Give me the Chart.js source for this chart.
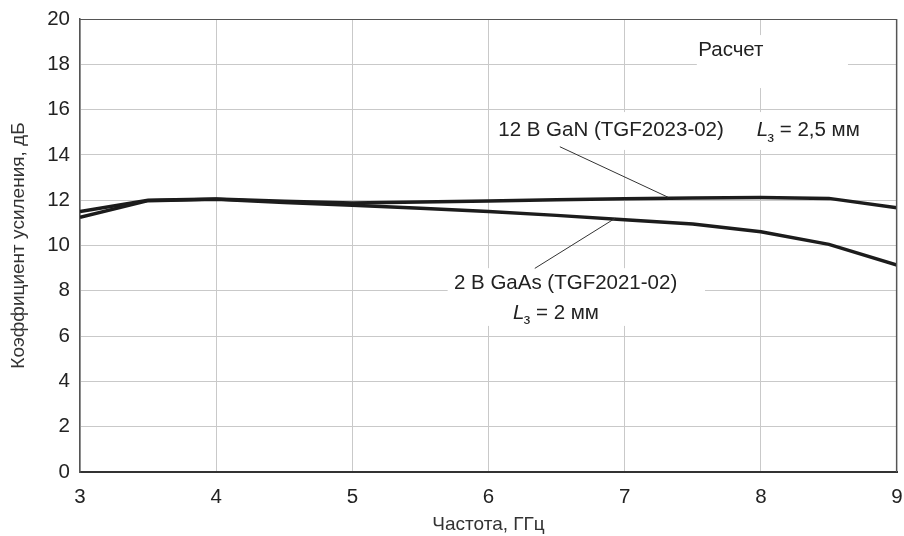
<!DOCTYPE html>
<html>
<head>
<meta charset="utf-8">
<script src="https://cdn.jsdelivr.net/npm/chart.js@4.4.1/dist/chart.umd.min.js"></script>
<style>
  html, body { margin: 0; padding: 0; background: #fff; }
  #wrap { width: 904px; height: 536px; }
</style>
</head>
<body>
<div id="wrap"><canvas id="c" width="904" height="536"></canvas></div>
<script>
// ---- Data ----
const freqGHz   = [3, 3.5, 4, 4.5, 5, 5.5, 6, 6.5, 7, 7.5, 8, 8.5, 9];
const ganGain   = [11.5, 12.0, 12.05, 11.95, 11.88, 11.92, 11.97, 12.02, 12.06, 12.1, 12.12, 12.08, 11.67];
const gaasGain  = [11.25, 11.98, 12.04, 11.9, 11.78, 11.65, 11.5, 11.33, 11.14, 10.95, 10.61, 10.05, 9.14];
const xTitle = 'Частота, ГГц';
const yTitle = 'Коэффициент усиления, дБ';
const labelCalc = 'Расчет';
const labelGaN  = '12 В GaN (TGF2023-02)';
const labelGaNL = ' = 2,5 мм';
const labelGaAs = '2 В GaAs (TGF2021-02)';
const labelGaAsL = ' = 2 мм';

const FONT = '"Liberation Sans", Arial, sans-serif';
const FS = 20.5;

// annotation layout in data units
const whiteBoxes = [
  {x0: 7.53, x1: 8.64, y0: 16.95, y1: 19.29},
  {x0: 6.05, x1: 8.87, y0: 14.22, y1: 15.89},
  {x0: 5.70, x1: 7.59, y0: 6.45, y1: 9.0}
];
const leaders = [
  {x0: 6.524, y0: 14.36, x1: 7.319, y1: 12.13},
  {x0: 6.34,  y0: 8.99,  x1: 6.93,  y1: 11.2}
];

const annot = {
  id: 'annot',
  beforeDatasetsDraw(chart) {
    const {ctx, scales: {x, y}} = chart;
    ctx.save();
    ctx.fillStyle = '#fff';
    whiteBoxes.forEach(b => {
      const px0 = x.getPixelForValue(b.x0), px1 = x.getPixelForValue(b.x1);
      const py0 = y.getPixelForValue(b.y1), py1 = y.getPixelForValue(b.y0);
      ctx.fillRect(px0, py0, px1 - px0, py1 - py0);
    });
    ctx.restore();
  },
  afterDatasetsDraw(chart) {
    const {ctx, chartArea: a, scales: {x, y}} = chart;
    ctx.save();
    // top and right frame
    ctx.strokeStyle = '#555';
    ctx.lineWidth = 1.2;
    ctx.beginPath();
    ctx.moveTo(a.left, a.top + 0.5); ctx.lineTo(a.right - 0.5, a.top + 0.5); ctx.lineTo(a.right - 0.5, a.bottom);
    ctx.stroke();
    // leader lines
    ctx.strokeStyle = '#333';
    ctx.lineWidth = 1;
    leaders.forEach(l => {
      ctx.beginPath();
      ctx.moveTo(x.getPixelForValue(l.x0), y.getPixelForValue(l.y0));
      ctx.lineTo(x.getPixelForValue(l.x1), y.getPixelForValue(l.y1));
      ctx.stroke();
    });
    // texts
    ctx.fillStyle = '#222';
    ctx.textBaseline = 'middle';
    ctx.font = FS + 'px ' + FONT;
    ctx.textAlign = 'center';
    ctx.fillText(labelCalc, x.getPixelForValue(7.78), y.getPixelForValue(18.6));
    ctx.fillText(labelGaN, x.getPixelForValue(6.90), y.getPixelForValue(15.07));
    ctx.fillText(labelGaAs, x.getPixelForValue(6.566), y.getPixelForValue(8.33));
    const drawL = (px, py, rest) => {
      ctx.textAlign = 'left';
      ctx.font = 'italic ' + FS + 'px ' + FONT;
      ctx.fillText('L', px, py);
      let w = ctx.measureText('L').width;
      ctx.font = '15px ' + FONT;
      ctx.fillText('з', px + w - 1, py + 7);
      w += ctx.measureText('з').width - 1;
      ctx.font = FS + 'px ' + FONT;
      ctx.fillText(rest, px + w, py);
    };
    drawL(x.getPixelForValue(7.97), y.getPixelForValue(15.07), labelGaNL);
    drawL(x.getPixelForValue(6.18), y.getPixelForValue(7.02), labelGaAsL);
    ctx.restore();
  }
};

new Chart(document.getElementById('c'), {
  type: 'line',
  data: {
    datasets: [
      {label: labelGaAs, data: freqGHz.map((f, i) => ({x: f, y: gaasGain[i]})),
       borderColor: '#1c1c1c', borderWidth: 3.5, pointRadius: 0, tension: 0, fill: false},
      {label: labelGaN, data: freqGHz.map((f, i) => ({x: f, y: ganGain[i]})),
       borderColor: '#1c1c1c', borderWidth: 3.5, pointRadius: 0, tension: 0, fill: false}
    ]
  },
  options: {
    responsive: false,
    animation: false,
    devicePixelRatio: 1,
    layout: {padding: {left: 0, right: 7, top: 19, bottom: 0}},
    plugins: {legend: {display: false}, tooltip: {enabled: false}},
    scales: {
      x: {
        type: 'linear', min: 3, max: 9,
        ticks: {stepSize: 1, color: '#222', font: {family: FONT, size: FS}, padding: 13, maxRotation: 0},
        grid: {color: '#c9c9c9', lineWidth: 1, drawTicks: false},
        border: {color: '#333', width: 2},
        title: {display: true, text: xTitle, color: '#333', font: {family: FONT, size: 19}, padding: {top: 10, bottom: 0}},
        afterFit(s) { s.height = 64; s.paddingLeft = 0; s.paddingRight = 0; }
      },
      y: {
        min: 0, max: 20,
        ticks: {stepSize: 2, color: '#222', font: {family: FONT, size: FS}, padding: 10},
        grid: {color: '#c9c9c9', lineWidth: 1, drawTicks: false},
        border: {color: '#555', width: 1.5},
        title: {display: true, text: yTitle, color: '#333', font: {family: FONT, size: 19}, padding: {top: 7, bottom: 6}},
        afterFit(s) { s.width = 80; s.paddingTop = 0; s.paddingBottom = 0; }
      }
    }
  },
  plugins: [annot]
});
</script>
</body>
</html>
